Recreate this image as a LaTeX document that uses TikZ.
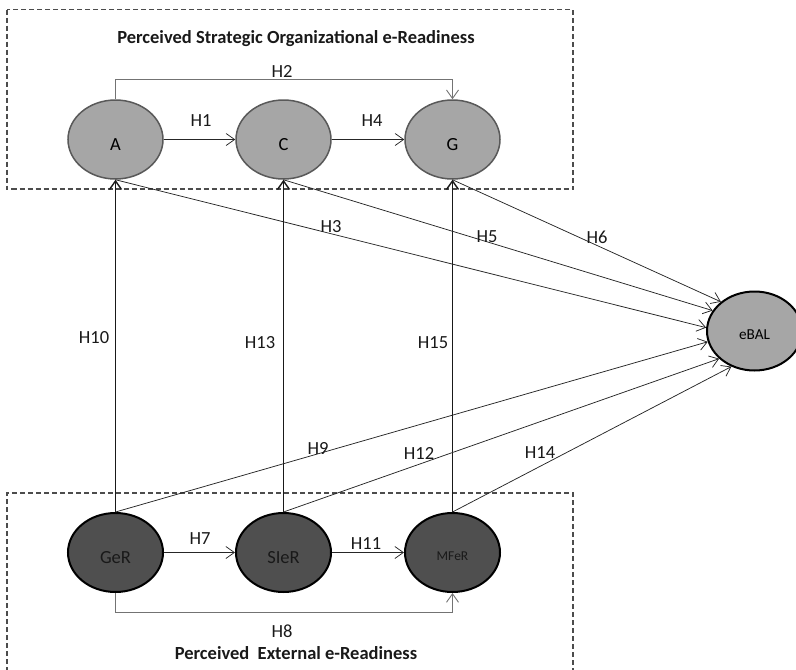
\documentclass[tikz,border=0pt]{standalone}
\usepackage{fontspec}
\setmainfont{Carlito}
\usetikzlibrary{shapes.geometric,arrows.meta}
\newcommand{\labfont}{\fontsize{18.5}{22}\selectfont}
\newcommand{\smallnodefont}{\fontsize{13.5}{16}\selectfont}
\newcommand{\outfont}{\fontsize{15.2}{18}\selectfont}
\tikzset{
  ell/.style={ellipse, minimum width=95pt, minimum height=79pt, inner sep=0pt,
              font=\labfont, text height=21.9pt, text depth=0pt},
  topnode/.style={ell, draw=black!65, line width=1.5pt, fill=black!35},
  botnode/.style={ell, draw=black, line width=2pt, fill=black!69, text=black!90},
  outnode/.style={ell, draw=black, line width=2pt, fill=black!35, font=\outfont, text height=17.8pt},
  hlab/.style={font=\labfont, inner sep=0pt, text=black!90},
  ttl/.style={font=\labfont\bfseries, inner sep=0pt, text=black!90},
  tip/.style={-{Straight Barb[length=8.5pt,width=12pt]}},
  conn/.style={draw=black!85, line width=0.75pt, tip},
  vconn/.style={draw=black!90, line width=1.4pt, tip},
  elbow/.style={draw=black!55, line width=0.9pt, tip},
  dashbox/.style={draw=black!70, line width=1.3pt, dash pattern=on 5pt off 3pt},
}
\begin{document}
\begin{tikzpicture}[x=1pt,y=-1pt]
\useasboundingbox (0,0) rectangle (796,670);
% dashed group boxes
\draw[dashbox] (7,9.5) rectangle (573,189);
\draw[dashbox] (7,672) -- (7,493) -- (573,493) -- (573,672);
% titles
\node[ttl] (ttop) at (296,39) {Perceived Strategic Organizational e-Readiness};
\node[ttl] (tbot) at (296,653) {Perceived\ \ External e-Readiness};
% nodes
\node[topnode] (A) at (115.5,139.5) {A};
\node[topnode] (C) at (283.5,139.5) {C};
\node[topnode] (G) at (452.5,139.5) {G};
\node[botnode] (GeR) at (115.5,552.5) {GeR};
\node[botnode] (SIeR) at (283.5,552.5) {SIeR};
\node[botnode, font=\smallnodefont, text height=15.7pt] (MFeR) at (452.5,552.5) {MFeR};
\node[outnode] (eBAL) at (754.5,331) {eBAL};
% connectors within boxes
\draw[conn] (A) -- (C);
\draw[conn] (C) -- (G);
\draw[elbow] (A.north) -- ++(0,-20) -| (G.north);
\draw[conn] (GeR) -- (SIeR);
\draw[conn] (SIeR) -- (MFeR);
\draw[elbow] (GeR.south) -- ++(0,19.5) -| (MFeR.south);
% vertical connectors
\draw[vconn] (GeR.north) -- (A.south);
\draw[vconn] (SIeR.north) -- (C.south);
\draw[vconn] (MFeR.north) -- (G.south);
% connectors to eBAL
\draw[conn] (A.south) -- (eBAL.176);
\draw[conn] (C.south) -- (eBAL.154);
\draw[conn] (G.south) -- (eBAL.139);
\draw[conn] (GeR.north) -- (eBAL.193);
\draw[conn] (SIeR.north) -- (eBAL.218);
\draw[conn] (MFeR.north) -- (eBAL.237);
% hypothesis labels
\node[hlab] (h1) at (201,121) {H1};
\node[hlab] (h2) at (282,71) {H2};
\node[hlab] (h3) at (331,227) {H3};
\node[hlab] (h4) at (372,121) {H4};
\node[hlab] (h5) at (487,237) {H5};
\node[hlab] (h6) at (597,237) {H6};
\node[hlab] (h7) at (200,539) {H7};
\node[hlab] (h8) at (282,631) {H8};
\node[hlab] (h9) at (318,448) {H9};
\node[hlab] (h10) at (94,338) {H10};
\node[hlab] (h11) at (366,544) {H11};
\node[hlab] (h12) at (419,453) {H12};
\node[hlab] (h13) at (260,343) {H13};
\node[hlab] (h14) at (540,453) {H14};
\node[hlab] (h15) at (433,343) {H15};
\end{tikzpicture}
\end{document}
